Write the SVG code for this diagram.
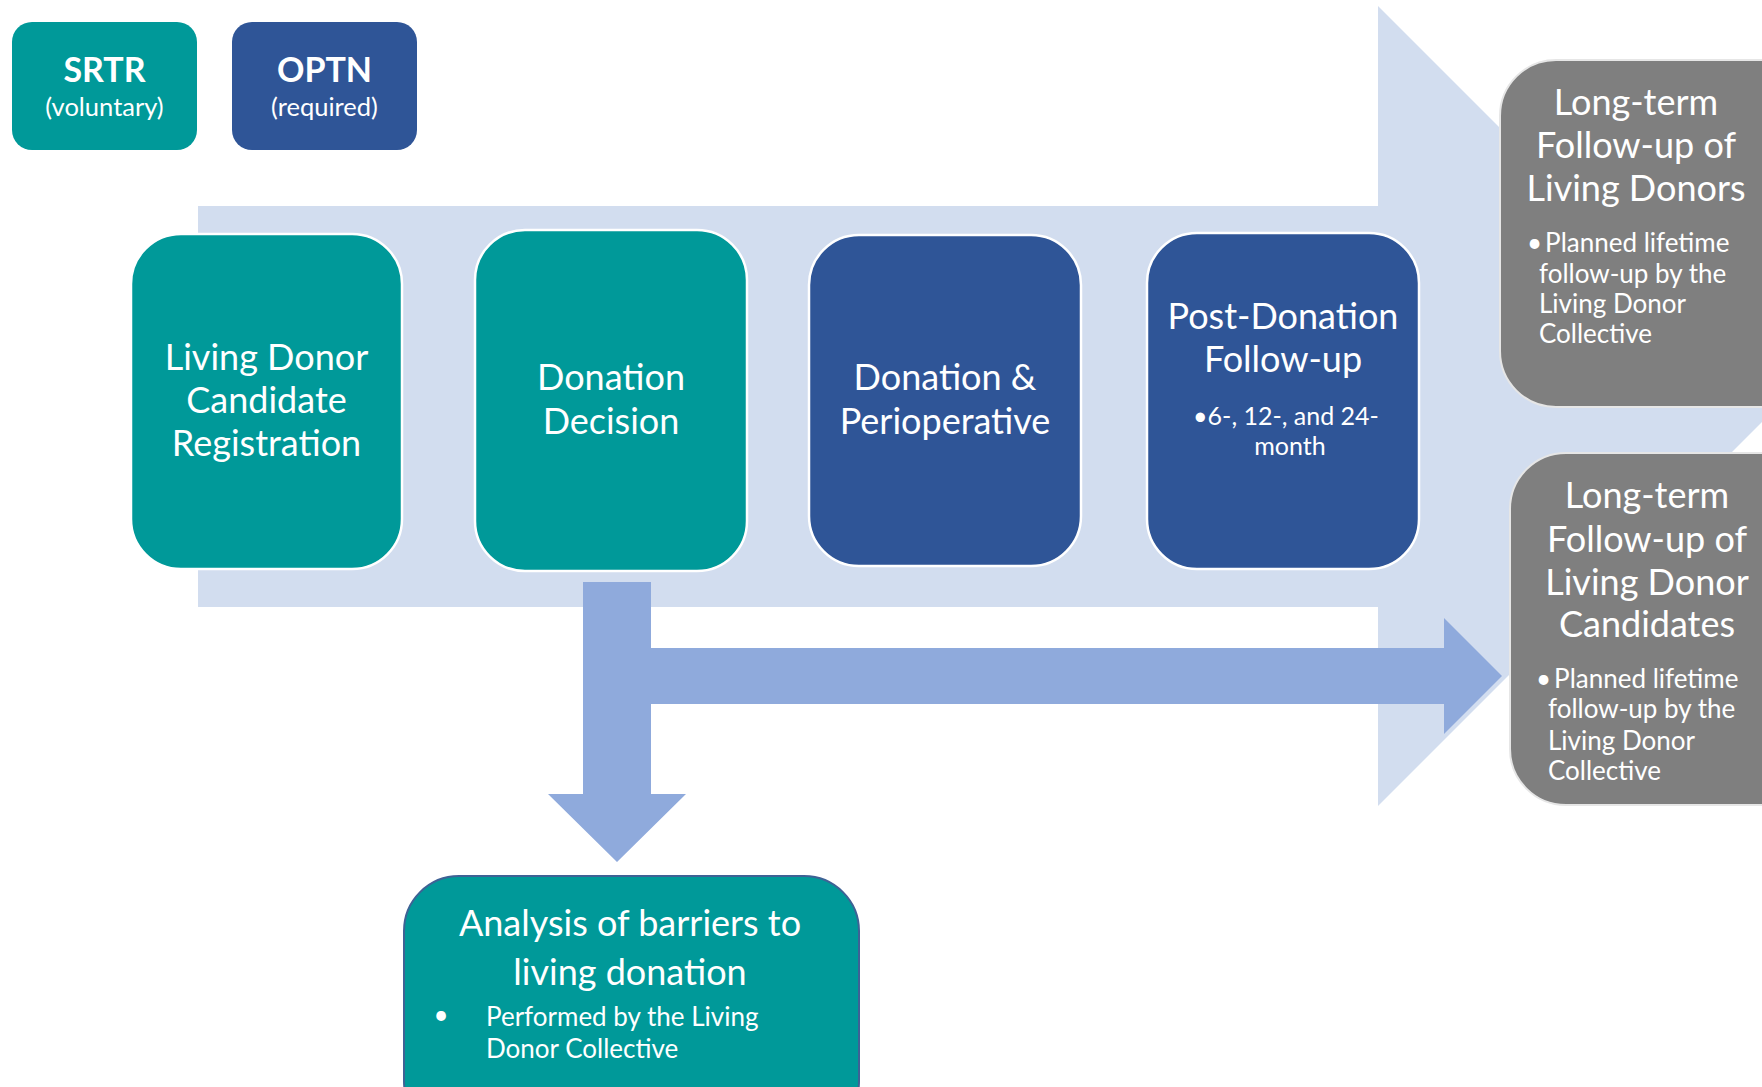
<svg xmlns="http://www.w3.org/2000/svg" width="1762" height="1087" viewBox="0 0 1762 1087">
<style>
.teal{fill:#009999}
.blue{fill:#2F5597}
.gray{fill:#7F7F7F}
.node{stroke:#ffffff;stroke-width:2.5}
.gnode{stroke:#e6e6e6;stroke-width:2}
text{font-family:Lato,"Open Sans","Liberation Sans",sans-serif;fill:#ffffff;text-anchor:middle}
.big{font-size:36px}
.sm{font-size:26px}
.lft{text-anchor:start}
</style>
<rect width="1762" height="1087" fill="#ffffff"/>
<g id="flow-arrow">
<path d="M198,206 H1378 V6 L1778,406 L1378,806 V607 H198 Z" fill="#D2DDEF"/>
</g>
<g id="legend-srtr">
<rect x="12" y="22" width="185" height="128" rx="20" class="teal"/>
<text x="104.5" y="82" style="font-size:34px;font-weight:bold">SRTR</text>
<text x="104.5" y="116" style="font-size:25.5px">(voluntary)</text>
</g>
<g id="legend-optn">
<rect x="232" y="22" width="185" height="128" rx="20" class="blue"/>
<text x="324.5" y="82" style="font-size:34px;font-weight:bold">OPTN</text>
<text x="324.5" y="116" style="font-size:25.5px">(required)</text>
</g>
<g id="registration">
<rect x="131" y="234" width="271" height="335" rx="50" class="teal node"/>
<text x="266.5" y="370" class="big">Living Donor</text>
<text x="266.5" y="413" class="big">Candidate</text>
<text x="266.5" y="456" class="big">Registration</text>
</g>
<g id="decision">
<rect x="475" y="230" width="272" height="341" rx="50" class="teal node"/>
<text x="611" y="390" class="big">Donation</text>
<text x="611" y="434" class="big">Decision</text>
</g>
<g id="perioperative">
<rect x="809" y="235" width="272" height="331" rx="50" class="blue node"/>
<text x="945" y="390" class="big">Donation &amp;</text>
<text x="945" y="434" class="big">Perioperative</text>
</g>
<g id="post-donation">
<rect x="1147" y="233" width="272" height="336" rx="50" class="blue node"/>
<text x="1283" y="329" class="big">Post-Donation</text>
<text x="1283" y="372" class="big">Follow-up</text>
<text x="1286" y="425" style="font-size:25px">•6-, 12-, and 24-</text>
<text x="1290" y="455" style="font-size:25px">month</text>
</g>
<g id="connectors">
<path d="M583,582 H651 V648 H1444 V618 L1502,676 L1444,734 V704 H651 V794 H686 L617,862 L548,794 H583 Z" fill="#8FAADC"/>
</g>
<g id="lt-donors">
<rect x="1500" y="60" width="320" height="347" rx="56" class="gray gnode"/>
<text x="1636" y="115" class="big">Long-term</text>
<text x="1636" y="158" class="big">Follow-up of</text>
<text x="1636" y="201" class="big">Living Donors</text>
<text x="1527" y="252" class="sm lft">•<tspan dx="3">Planned lifetime</tspan></text>
<text x="1539" y="283" class="sm lft">follow-up by the</text>
<text x="1539" y="313" class="sm lft">Living Donor</text>
<text x="1539" y="343" class="sm lft">Collective</text>
</g>
<g id="lt-candidates">
<rect x="1510" y="453" width="320" height="352" rx="56" class="gray gnode"/>
<text x="1647" y="508" class="big">Long-term</text>
<text x="1647" y="552" class="big">Follow-up of</text>
<text x="1647" y="595" class="big">Living Donor</text>
<text x="1647" y="637" class="big">Candidates</text>
<text x="1536" y="688" class="sm lft">•<tspan dx="3">Planned lifetime</tspan></text>
<text x="1548" y="718" class="sm lft">follow-up by the</text>
<text x="1548" y="750" class="sm lft">Living Donor</text>
<text x="1548" y="780" class="sm lft">Collective</text>
</g>
<g id="barriers">
<rect x="404" y="876" width="455" height="260" rx="55" class="teal" stroke="#3E6295" stroke-width="2"/>
<text x="630" y="936" class="big">Analysis of barriers to</text>
<text x="630" y="985" class="big">living donation</text>
<text x="441" y="1024" class="sm">•</text>
<text x="486" y="1026" class="sm lft">Performed by the Living</text>
<text x="486" y="1058" class="sm lft">Donor Collective</text>
</g>
</svg>
